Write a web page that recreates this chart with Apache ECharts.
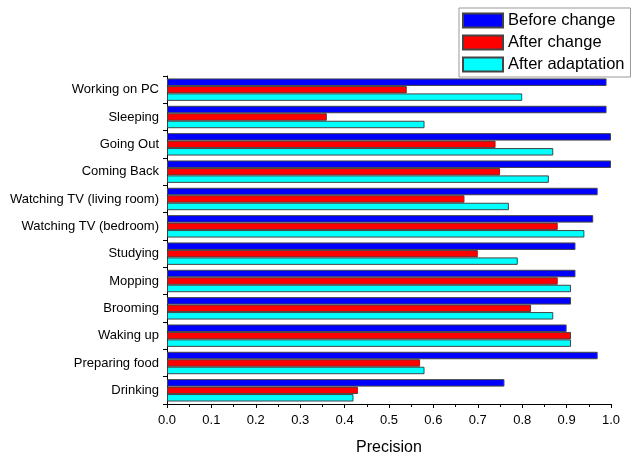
<!DOCTYPE html>
<html><head><meta charset="utf-8">
<script src="https://cdn.jsdelivr.net/npm/echarts@6/dist/echarts.min.js"></script>
<style>html,body{margin:0;padding:0;background:#fff}#c{width:631px;height:455px}</style>
</head><body><div id="c"></div>
<script>
const categories = ["Working on PC","Sleeping","Going Out","Coming Back","Watching TV (living room)","Watching TV (bedroom)","Studying","Mopping","Brooming","Waking up","Preparing food","Drinking"];
const beforeChange = [0.99,0.99,1.0,1.0,0.97,0.96,0.92,0.92,0.91,0.90,0.97,0.76];
const afterChange = [0.54,0.36,0.74,0.75,0.67,0.88,0.70,0.88,0.82,0.91,0.57,0.43];
const afterAdaptation = [0.80,0.58,0.87,0.86,0.77,0.94,0.79,0.91,0.87,0.91,0.58,0.42];
const xTicks = [0,0.1,0.2,0.3,0.4,0.5,0.6,0.7,0.8,0.9,1.0];

const font = 'Liberation Sans, Arial, sans-serif';
const chart = echarts.init(document.getElementById('c'));
const mk = (name, data, color) => ({
  name, type: 'bar', data, barGap: '0%', barCategoryGap: '18%',
  itemStyle: { color, borderColor: '#444', borderWidth: 1 }
});
chart.setOption({
  animation: false,
  textStyle: { fontFamily: font },
  legend: {
    orient: 'vertical', left: 459, top: 8,
    icon: 'rect',
    itemWidth: 40, itemHeight: 14, itemGap: 5,
    padding: [4, 6, 4, 3],
    borderColor: '#999', borderWidth: 1,
    textStyle: { fontFamily: font, fontSize: 16.5, color: '#000' },
    data: ['Before change', 'After change', 'After adaptation']
  },
  grid: { left: 167, right: 20, top: 76, bottom: 51, containLabel: false, outerBoundsMode: 'none' },
  xAxis: {
    type: 'value', min: 0, max: 1, interval: 0.1,
    name: 'Precision', nameLocation: 'middle', nameGap: 36,
    nameTextStyle: { fontFamily: font, fontSize: 16, color: '#000' },
    axisLine: { show: true, lineStyle: { color: '#000' } },
    axisTick: { show: true, length: 4, lineStyle: { color: '#000' } },
    minorTick: { show: true, splitNumber: 2, length: 3, lineStyle: { color: '#000' } },
    splitLine: { show: false },
    axisLabel: { fontFamily: font, fontSize: 13, color: '#000', margin: 10,
      formatter: v => v.toFixed(1) }
  },
  yAxis: {
    type: 'category', data: categories, inverse: true,
    axisLine: { show: true, lineStyle: { color: '#000' } },
    axisTick: { show: true, length: 4, lineStyle: { color: '#000' } },
    axisLabel: { fontFamily: font, fontSize: 13, color: '#000', margin: 8 }
  },
  series: [
    mk('Before change', beforeChange, '#0000ff'),
    mk('After change', afterChange, '#ff0000'),
    mk('After adaptation', afterAdaptation, '#00ffff')
  ]
});
</script></body></html>
